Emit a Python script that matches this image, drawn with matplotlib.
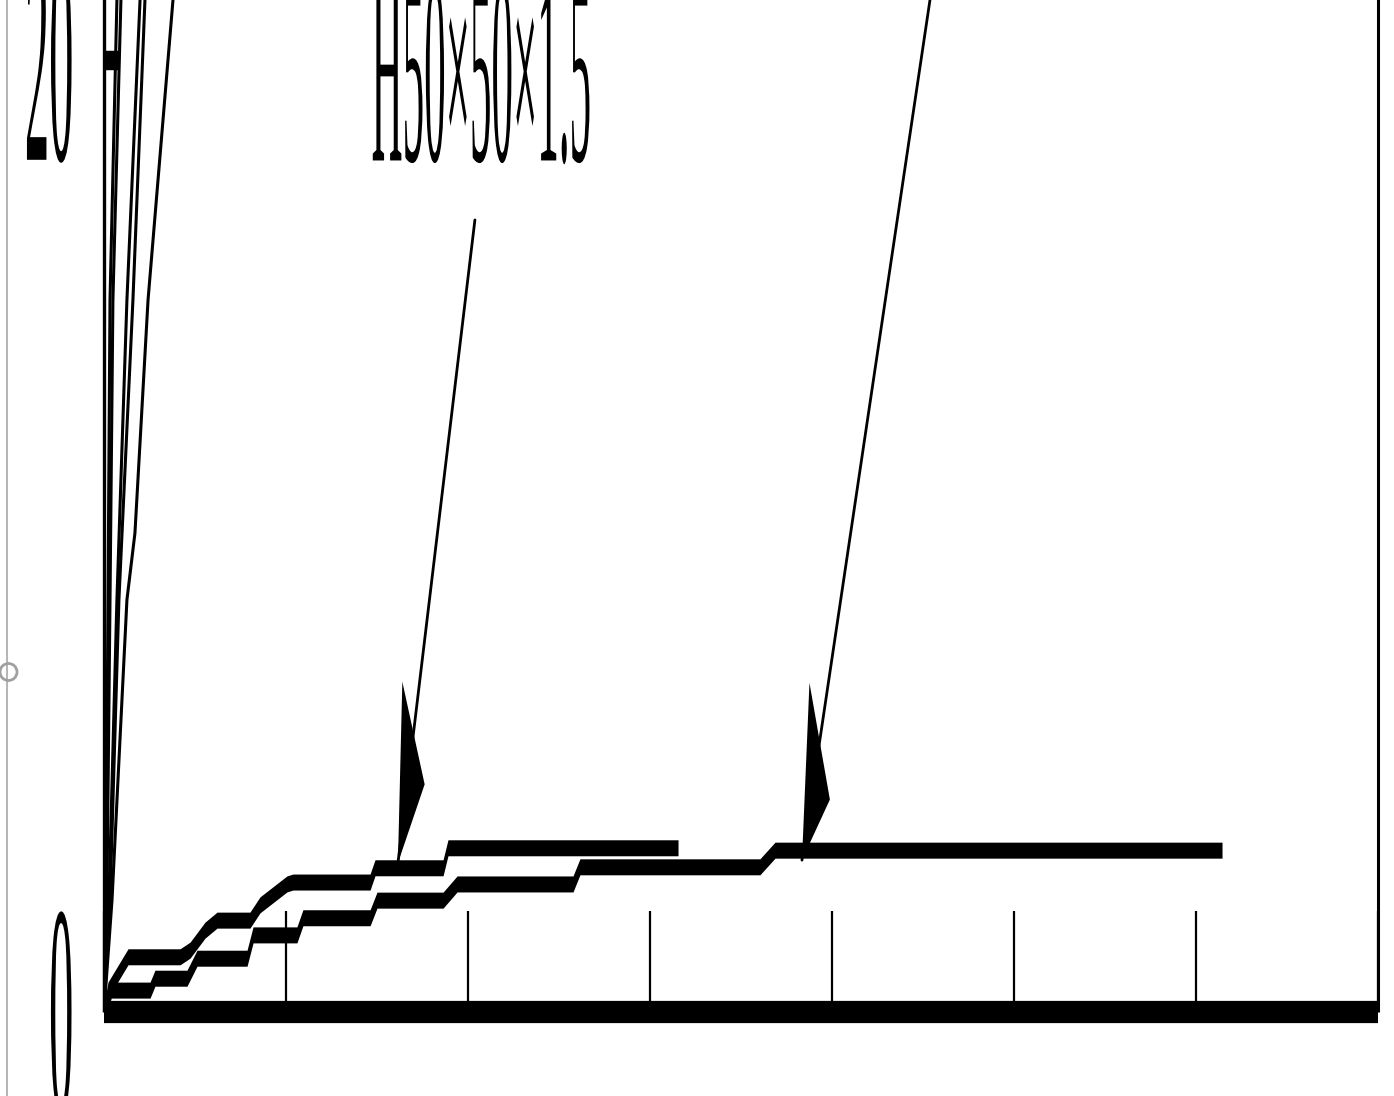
import matplotlib
matplotlib.use("Agg")
import matplotlib.pyplot as plt
import numpy as np
from matplotlib.patheffects import AbstractPathEffect
from matplotlib.transforms import Affine2D
from matplotlib.patches import Circle
from matplotlib.lines import Line2D

# the source picture is squeezed sideways / stretched upwards this much
SY = 6.2

# two step curves (displacement, load)
disp_1 = [0, 0.22, 1.32, 4.18, 4.73, 5.55, 6.21, 8.02, 8.57, 10.05, 10.38, 14.62, 14.89, 18.63, 18.90, 31.54]
load_1 = [0, 0.46, 1.16, 1.16, 1.30, 1.72, 1.93, 1.93, 2.25, 2.69, 2.73, 2.73, 3.03, 3.03, 3.45, 3.45]

disp_2 = [0, 0.40, 2.53, 2.80, 4.56, 5.11, 7.86, 8.19, 10.60, 10.93, 14.62, 15.00, 18.63, 19.40, 25.77, 26.15, 36.04, 36.87, 61.43]
load_2 = [0, 0.46, 0.46, 0.71, 0.71, 1.13, 1.13, 1.62, 1.62, 1.98, 1.98, 2.35, 2.35, 2.69, 2.69, 3.05, 3.05, 3.40, 3.40]

# steep curves starting at the origin (run off the top)
steep_load = [0, 2.35, 8.66, 14.96, 21.26, 23.36]
steep_a = [0, 0.11, 0.22, 0.33, 0.71, 0.82]
steep_b = [0, 0.16, 0.33, 0.49, 0.93, 1.10]
steep_c = [0, 0.27, 0.71, 1.26, 1.98, 2.20]
steep_d = [0, 0.33, 0.82, 1.59, 2.25, 2.47]
steep_e_load = [0, 2.35, 8.66, 10.06, 14.96, 21.26, 23.36]
steep_e = [0, 0.44, 1.26, 1.70, 2.42, 3.79, 4.23]

# label and its leader arrows
label_text = "H50×50×1.5"
label_xy = (14.70, 19.42)
arrow_tips = [(16.15, 3.13), (38.35, 3.19)]
arrow_starts = [(20.38, 16.64), (46.20, 23.36)]

x_ticks = [0, 10, 20, 30, 40, 50, 60, 70]
y_ticks = [0, 20]


class StretchY(AbstractPathEffect):
    """Stretch a drawn path vertically about its centre or a data anchor."""

    def __init__(self, sy, anchor=None, trans=None):
        super().__init__()
        self.sy = sy
        self.anchor = anchor
        self.trans = trans

    def draw_path(self, renderer, gc, tpath, affine, rgbFace=None):
        if self.anchor is None:
            ext = tpath.get_extents(affine)
            y0 = 0.5 * (ext.y0 + ext.y1)
        else:
            y0 = self.trans.transform(self.anchor)[1]
        t = affine + Affine2D().translate(0, -y0).scale(1, self.sy).translate(0, y0)
        renderer.draw_path(gc, tpath, t, rgbFace)


plt.rcParams['font.family'] = ['Liberation Serif', 'DejaVu Serif']

W, H = 1394, 1096
fig = plt.figure(figsize=(W / 100, H / 100), dpi=100)

px_per_unit = 47.6
ymax = 24
ax = fig.add_axes([104 / W, 84 / H, 1274 / W, ymax * px_per_unit / H])
ax.set_xlim(0, 70)
ax.set_ylim(0, ymax)

# curves: drawn as bands so flat parts look thick and steep parts thin
half = 8 / px_per_unit
for xs, ys in [(disp_1, load_1), (disp_2, load_2)]:
    ys = np.array(ys)
    ax.fill_between(xs, ys - half, ys + half, color='black', lw=0)

for xs in [steep_a, steep_b, steep_c, steep_d]:
    ax.plot(xs, steep_load, color='black', lw=2.2)
ax.plot(steep_e, steep_e_load, color='black', lw=2.2)

# label text
t = ax.text(label_xy[0], label_xy[1], label_text, fontsize=31,
            ha='left', va='baseline')
t.set_path_effects([StretchY(SY)])

# leader lines, plus heads built squeezed and stretched back about their tips
for tip, start in zip(arrow_tips, arrow_starts):
    ax.annotate('', xy=tip, xytext=start,
                arrowprops=dict(arrowstyle='-', color='black', lw=2.0,
                                shrinkA=0, shrinkB=0))
    squeezed = (start[0], tip[1] + (start[1] - tip[1]) / SY)
    head = ax.annotate('', xy=tip, xytext=squeezed,
                       arrowprops=dict(arrowstyle='-|>,head_length=0.94,head_width=0.5',
                                       color='black', lw=0, shrinkA=0, shrinkB=0,
                                       mutation_scale=20))
    head.arrow_patch.set_path_effects([StretchY(SY, anchor=tip, trans=ax.transData)])

# axes styling
ax.spines['top'].set_visible(False)
ax.spines['bottom'].set_linewidth(16)
ax.spines['left'].set_linewidth(2.4)
ax.spines['right'].set_linewidth(2.2)
for sp in ax.spines.values():
    sp.set_capstyle('butt')

ax.set_xticks(x_ticks)
ax.tick_params(axis='x', direction='in', length=73, width=1.6, labelbottom=False)
ax.set_yticks(y_ticks)
ax.set_yticklabels([str(v) for v in y_ticks])
ax.tick_params(axis='y', direction='in', length=10, width=14, pad=22, labelsize=35)
for lbl in ax.get_yticklabels():
    lbl.set_path_effects([StretchY(SY)])

# selection frame of the embedding document at the left edge
fig.add_artist(Line2D([0.07, 0.07], [0, H / 100], transform=fig.dpi_scale_trans,
                      color='#a0a0a0', lw=1.1))
fig.add_artist(Circle((0.085, (H - 672) / 100), 0.085, transform=fig.dpi_scale_trans,
                      facecolor='white', edgecolor='#a0a0a0', lw=2.0))

fig.savefig("out.png", dpi=100)
